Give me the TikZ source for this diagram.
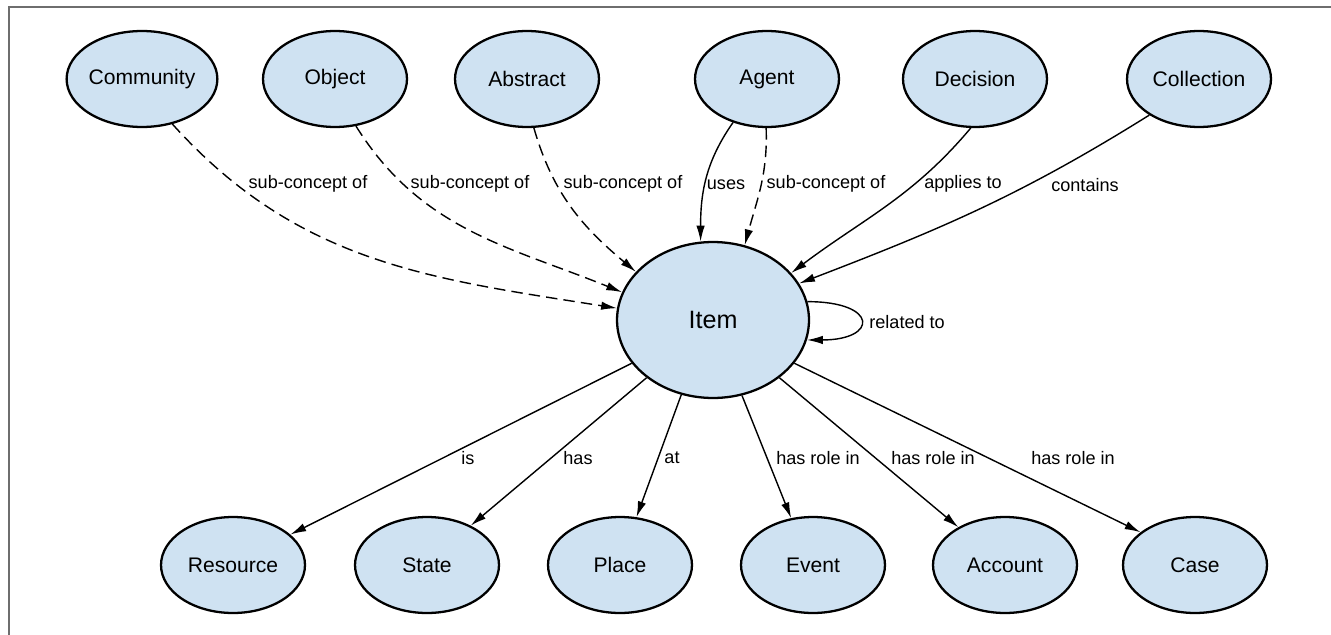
\documentclass[tikz,border=0pt]{standalone}
\usepackage{fontspec}
\setmainfont{Liberation Sans}
\usetikzlibrary{shapes.geometric, arrows.meta}
\definecolor{conceptblue}{RGB}{207,226,242}
\definecolor{framegray}{RGB}{110,110,110}
\tikzset{
  concept/.style={ellipse, draw, line width=1.3pt, fill=conceptblue, inner sep=0pt,
    minimum width=2.88cm, minimum height=1.92cm, font=\fontsize{12}{14}\selectfont},
  core/.style={concept, minimum width=3.84cm, minimum height=3.12cm, font=\fontsize{14.3}{17}\selectfont},
  rel/.style={->, line width=0.8pt},
  subof/.style={rel, dash pattern=on 6.5pt off 3.5pt},
  lbl/.style={inner sep=0pt, font=\fontsize{10.3}{12}\selectfont},
}

\begin{document}
\begin{tikzpicture}[x=0.02cm, y=0.02cm, >={Latex[length=9pt, width=4.8pt]}]
\useasboundingbox (0,0) rectangle (1331,-635);
\draw[framegray, line width=1.2pt] (9,-635) -- (9,-7) -- (1331,-7);

% upper row
\node[concept] (community) at (142,-79) {Community};
\node[concept] (object) at (335,-79) {Object};
\node[concept] (abstract) at (527,-79) {Abstract};
\node[concept] (agent) at (767,-79) {Agent};
\node[concept] (decision) at (975,-79) {Decision};
\node[concept] (collection) at (1199,-79) {Collection};

\node[core] (item) at (713,-320) {Item};

% lower row
\node[concept] (resource) at (233,-565) {Resource};
\node[concept] (state) at (427,-565) {State};
\node[concept] (place) at (620,-565) {Place};
\node[concept] (event) at (813,-565) {Event};
\node[concept] (account) at (1005,-565) {Account};
\node[concept] (case) at (1195,-565) {Case};

% into item
\draw[subof] (community.-56) to[out=-48, in=171] (item.173);
\draw[subof] (object.-66) to[out=-58, in=158] (item.163);
\draw[subof] (abstract.-82) to[out=-74, in=140] (item.148);
\draw[rel] (agent.-128) to[out=-125, in=90] (item.99);
\draw[subof] (agent.-91) to[out=-88, in=75] (item.67);
\draw[rel] (decision.-95) to[out=-130, in=37] (item.31);
\draw[rel] (collection.-144) to[out=-148, in=21] (item.23);
\draw[rel] (item.11) to[out=0, in=0, looseness=4.75] (item.-12);

% out of item
\draw[rel] (item.-152) -- (resource.28);
\draw[rel] (item.-139) -- (state.42);
\draw[rel] (item.-113) -- (place.71);
\draw[rel] (item.-69) -- (event.115);
\draw[rel] (item.-41) -- (account.141);
\draw[rel] (item.-28) -- (case.149);

% labels
\node[lbl] (l-community) at (308,-184) {sub-concept of};
\node[lbl] (l-object) at (470,-184) {sub-concept of};
\node[lbl] (l-abstract) at (623,-184) {sub-concept of};
\node[lbl] (l-uses) at (726,-185) {uses};
\node[lbl] (l-agent) at (826,-184) {sub-concept of};
\node[lbl] (l-decision) at (963,-184) {applies to};
\node[lbl] (l-collection) at (1085,-185) {contains};
\node[lbl, anchor=west] (l-related) at (869,-322) {related to};
\node[lbl] (l-resource) at (468,-458) {is};
\node[lbl] (l-state) at (578,-458) {has};
\node[lbl] (l-place) at (672,-458) {at};
\node[lbl] (l-event) at (818,-458) {has role in};
\node[lbl] (l-account) at (933,-458) {has role in};
\node[lbl] (l-case) at (1073,-458) {has role in};

\end{tikzpicture}
\end{document}
